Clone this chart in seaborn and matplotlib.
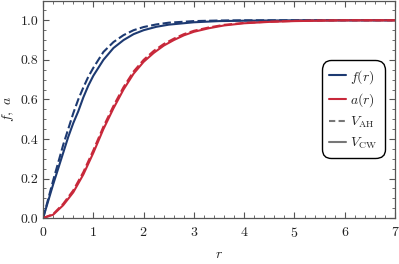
import numpy as np
import pandas as pd
import matplotlib
matplotlib.use("Agg")
import matplotlib.pyplot as plt
from matplotlib.lines import Line2D
from matplotlib.ticker import MultipleLocator
import seaborn as sns

sns.set_style("ticks")
plt.rcParams.update({
    "font.family": "serif",
    "font.serif": ["cmr10", "DejaVu Serif"],
    "mathtext.fontset": "cm",
    "axes.formatter.use_mathtext": True,
    "axes.unicode_minus": False,
})

# values
r_f = [0, 0.1, 0.2, 0.3, 0.4, 0.5, 0.6, 0.7, 0.8, 0.9, 1.0, 1.2, 1.4, 1.6, 1.8,
       2.0, 2.25, 2.5, 3.0, 3.5, 4.0, 5.0, 6.0, 7.0]
f_cw = [0, 0.085, 0.17, 0.25, 0.33, 0.41, 0.48, 0.54, 0.61, 0.67, 0.72, 0.80,
        0.86, 0.90, 0.93, 0.95, 0.967, 0.978, 0.99, 0.996, 0.998, 1.0, 1.0, 1.0]
f_ah = [0, 0.095, 0.19, 0.28, 0.37, 0.45, 0.53, 0.60, 0.66, 0.715, 0.76, 0.84,
        0.89, 0.925, 0.95, 0.966, 0.979, 0.988, 0.996, 0.999, 1.0, 1.0, 1.0, 1.0]

r_a = [0, 0.2, 0.4, 0.6, 0.8, 1.0, 1.2, 1.4, 1.6, 1.8, 2.0, 2.2, 2.4, 2.6, 2.8,
       3.0, 3.3, 3.6, 4.0, 4.5, 5.0, 5.5, 6.0, 7.0]
a_cw = [0, 0.017, 0.065, 0.13, 0.22, 0.33, 0.45, 0.555, 0.65, 0.73, 0.79, 0.835,
        0.872, 0.90, 0.924, 0.942, 0.96, 0.974, 0.985, 0.992, 0.996, 0.998, 1.0, 1.0]
a_ah = [0, 0.02, 0.072, 0.14, 0.232, 0.343, 0.462, 0.567, 0.662, 0.741, 0.80, 0.845,
        0.88, 0.907, 0.93, 0.947, 0.964, 0.977, 0.987, 0.993, 0.997, 0.999, 1.0, 1.0]

blue = "#1d3a72"
red = "#c8283a"
gray = "#777777"

fig = plt.figure(figsize=(3.99, 2.64), dpi=100)
ax = fig.add_axes([0.108, 0.174, 0.882, 0.824])

sns.lineplot(x=r_f, y=f_cw, color=blue, lw=1.5, ax=ax)
sns.lineplot(x=r_f, y=f_ah, color=blue, lw=1.5, ax=ax).lines[-1].set_dashes([4, 1.6])
sns.lineplot(x=r_a, y=a_cw, color=red, lw=1.5, ax=ax)
sns.lineplot(x=r_a, y=a_ah, color=red, lw=1.5, ax=ax).lines[-1].set_dashes([4, 1.6])

ax.set_xlim(0, 7)
ax.set_ylim(0, 1.1)
ax.xaxis.set_major_locator(MultipleLocator(1))
ax.xaxis.set_minor_locator(MultipleLocator(0.2))
ax.yaxis.set_major_locator(MultipleLocator(0.2))
ax.yaxis.set_minor_locator(MultipleLocator(0.05))
ax.yaxis.set_major_formatter(matplotlib.ticker.FormatStrFormatter("%.1f"))
ax.tick_params(which="both", direction="in", top=True, right=True,
               color="#555555", labelsize=10, labelcolor="#222222")
ax.tick_params(which="major", length=4, width=0.8)
ax.tick_params(which="minor", length=2, width=0.6)
ax.tick_params(axis="x", which="major", pad=6)
for s in ax.spines.values():
    s.set_color("#555555")
    s.set_linewidth(0.9)

ax.set_xlabel("$r$", fontsize=10, labelpad=6)
ax.set_ylabel("$f,\\ a$", fontsize=10, labelpad=3)

handles = [
    Line2D([], [], color=blue, lw=1.5),
    Line2D([], [], color=red, lw=1.5),
    Line2D([], [], color=gray, lw=1.5, dashes=[3, 1.6]),
    Line2D([], [], color=gray, lw=1.5),
]
labels = ["$f(r)$", "$a(r)$", "$V_{\\mathrm{AH}}$", "$V_{\\mathrm{CW}}$"]
leg = ax.legend(handles, labels, loc="center right", bbox_to_anchor=(0.99, 0.5),
                fontsize=10, handlelength=1.2, handletextpad=0.3,
                borderpad=0.55, labelspacing=0.4, fancybox=True, framealpha=1)
leg.get_frame().set_edgecolor("black")
leg.get_frame().set_linewidth(1.0)
leg.get_frame().set_boxstyle("round", pad=0, rounding_size=0.7)

fig.savefig("out.png", dpi=100)
